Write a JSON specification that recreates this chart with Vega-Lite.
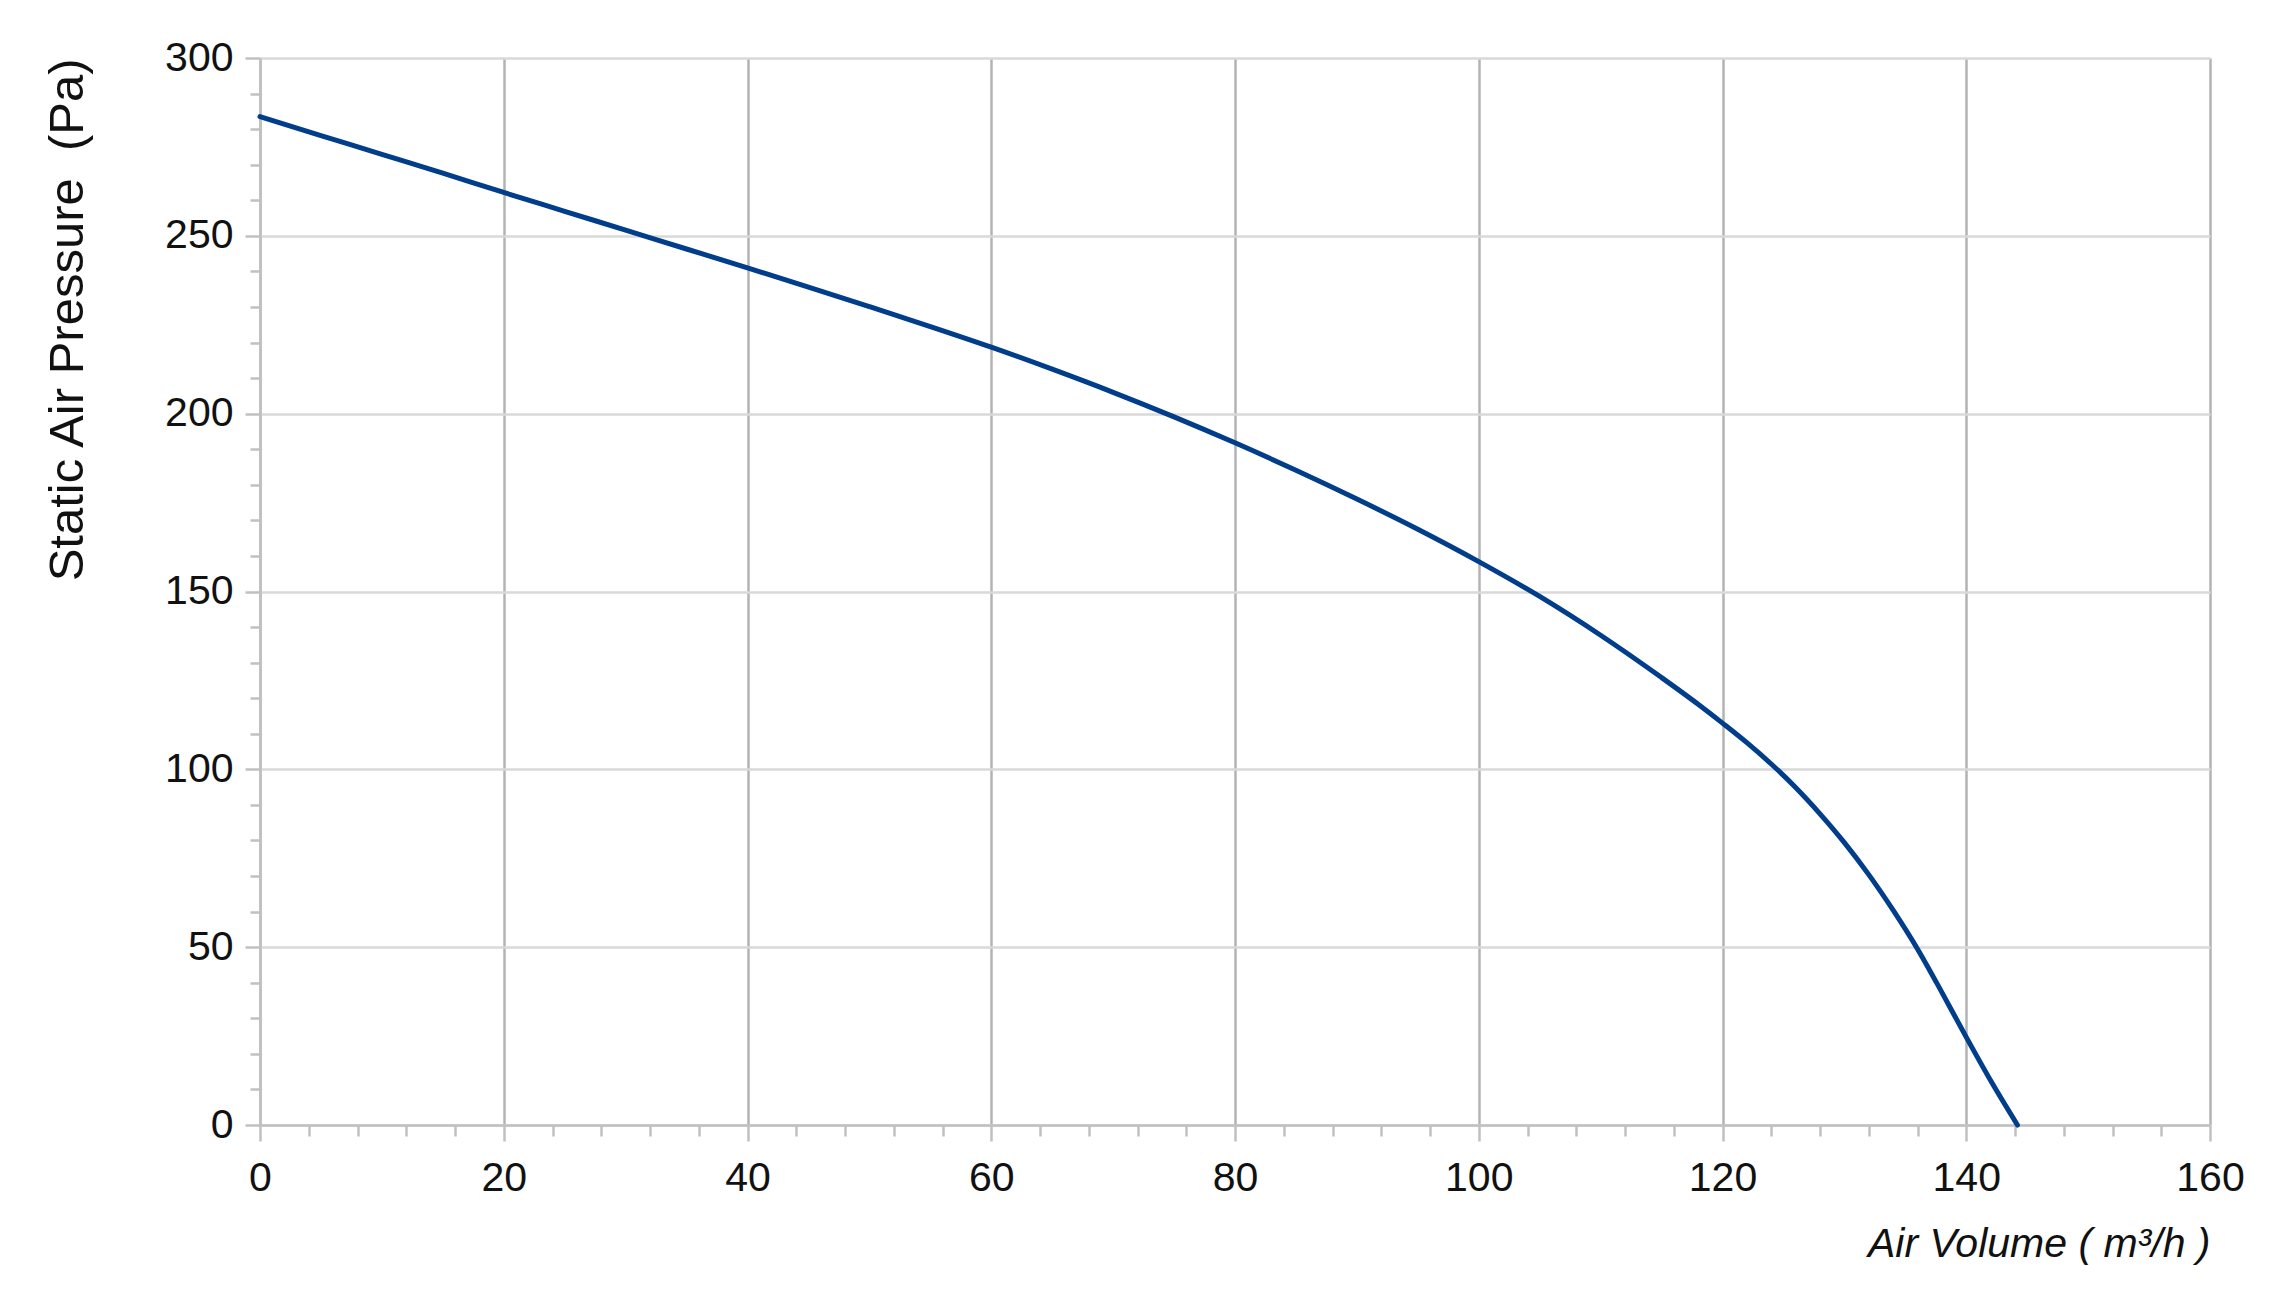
{
  "$schema": "https://vega.github.io/schema/vega-lite/v6.json",
  "width": 1950,
  "height": 1067,
  "autosize": "none",
  "padding": {"left": 260, "top": 58, "right": 76, "bottom": 172},
  "background": "white",
  "config": {
    "view": {"stroke": null},
    "font": "Liberation Sans",
    "axis": {
      "labelFont": "Liberation Sans",
      "titleFont": "Liberation Sans",
      "labelColor": "#111111",
      "titleColor": "#111111",
      "titleFontWeight": "normal",
      "domainColor": "#c0c0c0",
      "domainWidth": 2.5,
      "tickColor": "#c0c0c0",
      "tickWidth": 2.5,
      "labelFlush": false,
      "labelOverlap": false
    }
  },
  "data": {
    "values": [
      {"v": 0, "p": 283.5},
      {"v": 5, "p": 278.2},
      {"v": 10, "p": 272.9},
      {"v": 15, "p": 267.6},
      {"v": 20, "p": 262.2},
      {"v": 25, "p": 256.9},
      {"v": 30, "p": 251.6},
      {"v": 35, "p": 246.3},
      {"v": 40, "p": 241.0},
      {"v": 45, "p": 235.6},
      {"v": 50, "p": 230.1},
      {"v": 55, "p": 224.5},
      {"v": 60, "p": 218.7},
      {"v": 65, "p": 212.5},
      {"v": 70, "p": 206.0},
      {"v": 75, "p": 199.1},
      {"v": 80, "p": 191.8},
      {"v": 85, "p": 184.1},
      {"v": 90, "p": 176.0},
      {"v": 95, "p": 167.5},
      {"v": 100, "p": 158.4},
      {"v": 105, "p": 148.6},
      {"v": 110, "p": 137.7},
      {"v": 115, "p": 125.8},
      {"v": 118, "p": 118.3},
      {"v": 120, "p": 113.0},
      {"v": 122, "p": 107.5},
      {"v": 124, "p": 101.5},
      {"v": 126, "p": 94.9},
      {"v": 128, "p": 87.5},
      {"v": 130, "p": 79.4},
      {"v": 132, "p": 70.4},
      {"v": 134, "p": 60.4},
      {"v": 136, "p": 49.5},
      {"v": 138, "p": 37.3},
      {"v": 140, "p": 24.7},
      {"v": 142, "p": 12.5},
      {"v": 144.2, "p": 0}
    ]
  },
  "mark": {"type": "line", "color": "#003d8a", "strokeWidth": 5, "strokeCap": "round", "strokeJoin": "round", "interpolate": "monotone", "clip": false},
  "encoding": {
    "x": {
      "field": "v",
      "type": "quantitative",
      "scale": {"domain": [0, 160], "nice": false, "zero": true},
      "axis": {
        "title": "Air Volume ( m³/h )",
        "titleFontStyle": "italic",
        "titleFontSize": 41,
        "titleAnchor": "end",
        "titleAlign": "right",
        "titleY": 99,
        "labelFontSize": 41,
        "labelPadding": 17,
        "values": [0,4,8,12,16,20,24,28,32,36,40,44,48,52,56,60,64,68,72,76,80,84,88,92,96,100,104,108,112,116,120,124,128,132,136,140,144,148,152,156,160],
        "labelExpr": "datum.value % 20 === 0 ? datum.label : ''",
        "tickSize": {"condition": {"test": "datum.value % 20 === 0", "value": 16}, "value": 11},
        "grid": true,
        "gridColor": "#b3b3b3",
        "gridWidth": 2.5,
        "gridOpacity": {"condition": {"test": "datum.value % 20 === 0", "value": 1}, "value": 0}
      }
    },
    "y": {
      "field": "p",
      "type": "quantitative",
      "scale": {"domain": [0, 300], "nice": false},
      "axis": {
        "title": "Static Air Pressure \u00a0(Pa)",
        "titleFontSize": 49,
        "titleAnchor": "end",
        "titleX": -168,
        "labelFontSize": 41,
        "labelPadding": 12,
        "values": [0,10,20,30,40,50,60,70,80,90,100,110,120,130,140,150,160,170,180,190,200,210,220,230,240,250,260,270,280,290,300],
        "labelExpr": "datum.value % 50 === 0 ? datum.label : ''",
        "tickSize": {"condition": {"test": "datum.value % 50 === 0", "value": 15}, "value": 10},
        "grid": true,
        "gridColor": "#d9d9d9",
        "gridWidth": 2.5,
        "gridOpacity": {"condition": {"test": "datum.value % 50 === 0", "value": 1}, "value": 0}
      }
    }
  }
}
